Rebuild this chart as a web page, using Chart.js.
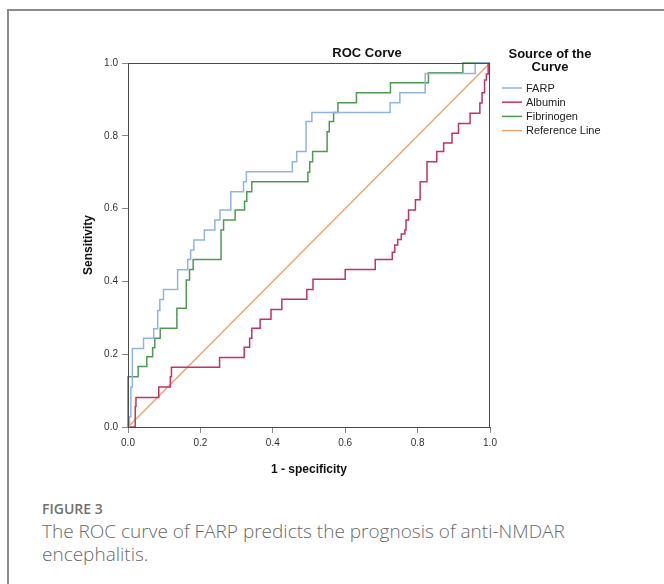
<!DOCTYPE html>
<html>
<head>
<meta charset="utf-8">
<script src="https://cdn.jsdelivr.net/npm/chart.js@4.4.1/dist/chart.umd.min.js"></script>
<style>
  body { margin: 0; background: #fff; width: 664px; height: 584px; overflow: hidden; position: relative; }
  #frame { position: absolute; left: 7px; top: 9px; width: 700px; height: 574px;
           border-left: 2px solid #8c8c8c; border-top: 2px solid #8c8c8c; }
  #wrap { position: absolute; left: 0; top: 0; width: 664px; height: 490px; }
  #figlabel { position: absolute; left: 42px; top: 499px; font: 600 14px "Open Sans", sans-serif; color: #707070; }
  #caption { position: absolute; left: 42px; top: 520px; width: 615px; font: 300 19px/23px "Open Sans", sans-serif; color: #6a6a6a; }
</style>
</head>
<body>
<div id="frame"></div>
<div id="wrap"><canvas id="roc" width="664" height="490"></canvas></div>
<div id="figlabel">FIGURE 3</div>
<div id="caption">The ROC curve of FARP predicts the prognosis of anti-NMDAR<br>encephalitis.</div>
<script>
// curve points: top of each vertical rise (drawn stepped)
const farpX = [0, 0.004, 0.008, 0.012, 0.043, 0.071, 0.082, 0.088, 0.098, 0.137, 0.165, 0.173, 0.182, 0.211, 0.240, 0.254, 0.284, 0.319, 0.327, 0.454, 0.466, 0.492, 0.508, 0.724, 0.751, 0.821, 0.959, 1];
const farpY = [0, 0.028, 0.110, 0.216, 0.244, 0.270, 0.320, 0.350, 0.378, 0.432, 0.460, 0.486, 0.514, 0.541, 0.569, 0.596, 0.646, 0.674, 0.701, 0.729, 0.757, 0.839, 0.864, 0.891, 0.918, 0.971, 1.0, 1.0];

const albuminX = [0, 0.020, 0.022, 0.085, 0.117, 0.120, 0.253, 0.321, 0.336, 0.342, 0.365, 0.395, 0.425, 0.494, 0.511, 0.600, 0.683, 0.730, 0.737, 0.745, 0.755, 0.765, 0.768, 0.775, 0.794, 0.807, 0.826, 0.853, 0.872, 0.895, 0.913, 0.945, 0.972, 0.978, 0.985, 0.990, 0.995, 1];
const albuminY = [0, 0.056, 0.081, 0.110, 0.138, 0.164, 0.191, 0.219, 0.244, 0.271, 0.296, 0.323, 0.351, 0.378, 0.406, 0.433, 0.460, 0.480, 0.500, 0.515, 0.530, 0.541, 0.569, 0.596, 0.624, 0.674, 0.729, 0.757, 0.780, 0.807, 0.834, 0.862, 0.890, 0.918, 0.953, 0.970, 1.0, 1.0];

const fibX = [0, 0, 0.028, 0.052, 0.068, 0.074, 0.089, 0.135, 0.161, 0.170, 0.180, 0.257, 0.264, 0.296, 0.322, 0.328, 0.342, 0.497, 0.502, 0.510, 0.550, 0.556, 0.568, 0.580, 0.631, 0.725, 0.830, 0.925, 1];
const fibY = [0, 0.138, 0.166, 0.193, 0.218, 0.244, 0.271, 0.326, 0.404, 0.433, 0.460, 0.541, 0.569, 0.596, 0.620, 0.646, 0.674, 0.700, 0.729, 0.757, 0.811, 0.839, 0.864, 0.891, 0.918, 0.946, 0.973, 1.0, 1.0];

const refX = [0, 1];
const refY = [0, 1];

const seriesNames = ["FARP", "Albumin", "Fibrinogen", "Reference Line"];
const seriesColors = ["#8fb5df", "#c4335e", "#4f9a52", "#eea46f"];
const axisTicks = [0, 0.2, 0.4, 0.6, 0.8, 1.0];

const toPts = (xs, ys) => xs.map((x, i) => ({ x: x, y: ys[i] }));

const frameAndLegend = {
  id: "frameAndLegend",
  afterDraw(chart) {
    const { ctx, chartArea: a } = chart;
    ctx.save();
    // box round the plot
    ctx.strokeStyle = "#4a4a4a";
    ctx.lineWidth = 1;
    ctx.strokeRect(a.left + 0.5, a.top + 0.5, a.right - a.left - 1, a.bottom - a.top);

    ctx.fillStyle = "#111";
    ctx.textAlign = "center";
    ctx.textBaseline = "middle";
    ctx.font = "bold 13px 'Liberation Sans', Arial, sans-serif";
    ctx.fillText("ROC Corve", a.right - 123, a.top - 10);

    // legend
    ctx.fillText("Source of the", a.right + 60, a.top - 9);
    ctx.fillText("Curve", a.right + 60, a.top + 4);
    ctx.font = "11px 'Liberation Sans', Arial, sans-serif";
    ctx.textAlign = "left";
    chart.data.datasets.forEach((ds, i) => {
      const y = a.top + 25 + i * 14.2;
      ctx.strokeStyle = ds.borderColor;
      ctx.lineWidth = 1.5;
      ctx.beginPath();
      ctx.moveTo(a.right + 12, y);
      ctx.lineTo(a.right + 32, y);
      ctx.stroke();
      ctx.fillStyle = "#222";
      ctx.fillText(ds.label, a.right + 36, y + 0.5);
    });
    ctx.restore();
  }
};

const tickFont = { family: "'Liberation Sans', Arial, sans-serif", size: 10 };
const titleFont = { family: "'Liberation Sans', Arial, sans-serif", size: 12, weight: "bold" };

new Chart(document.getElementById("roc"), {
  type: "line",
  data: {
    datasets: [
      { label: seriesNames[0], data: toPts(farpX, farpY), borderColor: seriesColors[0], stepped: "before" },
      { label: seriesNames[1], data: toPts(albuminX, albuminY), borderColor: seriesColors[1], stepped: "before" },
      { label: seriesNames[2], data: toPts(fibX, fibY), borderColor: seriesColors[2], stepped: "before" },
      { label: seriesNames[3], data: toPts(refX, refY), borderColor: seriesColors[3] }
    ]
  },
  options: {
    responsive: false,
    animation: false,
    devicePixelRatio: 1,
    elements: { line: { borderWidth: 1.5, tension: 0 }, point: { radius: 0 } },
    datasets: { line: { clip: 3 } },
    layout: { padding: { left: 0, right: 174, top: 63, bottom: 0 } },
    plugins: { legend: { display: false }, tooltip: { enabled: false } },
    scales: {
      x: {
        type: "linear", min: 0, max: 1,
        afterFit: s => { s.height = 63; },
        afterBuildTicks: s => { s.ticks = axisTicks.map(v => ({ value: v })); },
        ticks: { font: tickFont, color: "#333", padding: 4, maxRotation: 0, callback: v => v.toFixed(1) },
        grid: { drawOnChartArea: false, tickLength: 6, color: "#8a8a8a" },
        border: { color: "#4a4a4a" },
        title: { display: true, text: "1 - specificity", font: titleFont, color: "#111", padding: { top: 0, bottom: 13 } }
      },
      y: {
        type: "linear", min: 0, max: 1,
        afterFit: s => { s.width = 128; },
        afterBuildTicks: s => { s.ticks = axisTicks.map(v => ({ value: v })); },
        ticks: { font: tickFont, color: "#333", padding: 4, callback: v => v.toFixed(1) },
        grid: { drawOnChartArea: false, tickLength: 6, color: "#8a8a8a" },
        border: { color: "#4a4a4a" },
        title: { display: true, text: "Sensitivity", font: titleFont, color: "#111", padding: { top: 81, bottom: 0 } }
      }
    }
  },
  plugins: [frameAndLegend]
});
</script>
</body>
</html>
